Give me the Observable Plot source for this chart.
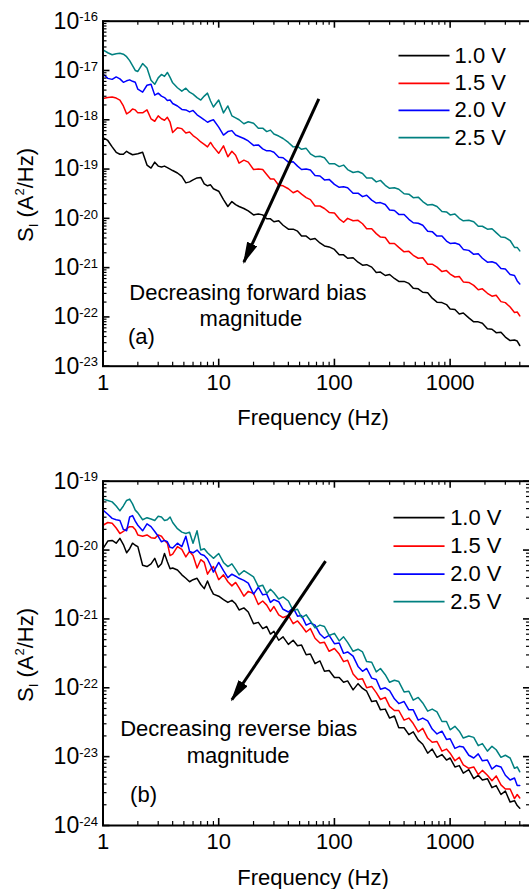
<!DOCTYPE html>
<html><head><meta charset="utf-8">
<script src="https://cdn.jsdelivr.net/npm/d3@7"></script>
<script src="https://cdn.jsdelivr.net/npm/@observablehq/plot@0.6"></script>
<style>
html,body{margin:0;padding:0;background:#fff;overflow:hidden;}
#chart{width:529px;overflow:hidden;}
#chart svg{display:block;max-width:none;}
</style></head><body><div id="chart"></div>
<script>
// ---- data (values are log10 of S_I in A^2/Hz) ----
const freq = [1,1.1,1.2,1.3,1.4,1.5,1.6,1.7,1.8,1.9,2,2.2,2.4,2.6,2.8,3,3.2,3.4,3.6,3.8,4,4.4,4.8,5.2,5.6,6,6.5,7,7.5,8,8.5,9,10,11,12,13,14,15,16.5,18,20,22,24,26,28,30,33,36,40,44,48,52,57,62,68,75,82,90,100,110,120,130,145,160,175,190,210,230,250,275,300,330,360,400,440,480,530,580,640,700,770,850,930,1000,1100,1200,1300,1450,1600,1750,1900,2100,2300,2500,2750,3000,3300,3600,3800,4000];
const seriesNames = ["1.0 V", "1.5 V", "2.0 V", "2.5 V"];
const seriesColors = ["#000000", "#ff0000", "#0000ff", "#008080"];

// panel (a) forward bias
const fwd10 = [-18.36,-18.42,-18.55,-18.66,-18.70,-18.70,-18.64,-18.68,-18.71,-18.70,
-18.69,-18.66,-18.92,-18.98,-18.86,-18.94,-18.96,-18.94,-18.97,-19.00,
-19.03,-19.08,-19.15,-19.28,-19.26,-19.22,-19.18,-19.17,-19.30,-19.34,
-19.32,-19.40,-19.45,-19.62,-19.76,-19.66,-19.72,-19.76,-19.80,-19.85,
-19.93,-19.91,-19.93,-20.01,-20.01,-20.07,-20.05,-20.14,-20.22,-20.22,
-20.26,-20.36,-20.36,-20.43,-20.41,-20.50,-20.56,-20.58,-20.63,-20.74,
-20.74,-20.81,-20.80,-20.89,-20.95,-20.94,-20.99,-21.10,-21.09,-21.16,
-21.14,-21.22,-21.28,-21.28,-21.32,-21.42,-21.43,-21.50,-21.51,-21.62,
-21.70,-21.71,-21.75,-21.84,-21.85,-21.94,-21.92,-22.02,-22.10,-22.10,
-22.13,-22.24,-22.25,-22.32,-22.31,-22.41,-22.48,-22.47,-22.49,-22.58];
const fwd15 = [-17.57,-17.55,-17.54,-17.56,-17.60,-17.72,-17.88,-17.84,-17.78,-17.80,
-17.86,-17.86,-17.80,-17.98,-18.03,-17.92,-17.98,-18.01,-17.95,-18.05,
-18.26,-18.16,-18.18,-18.27,-18.25,-18.32,-18.38,-18.45,-18.50,-18.55,
-18.46,-18.55,-18.68,-18.53,-18.75,-18.64,-18.72,-18.88,-18.82,-18.86,
-19.01,-19.00,-19.01,-19.11,-19.20,-19.20,-19.33,-19.34,-19.40,-19.48,
-19.44,-19.51,-19.58,-19.62,-19.75,-19.75,-19.80,-19.88,-19.89,-20.01,
-20.08,-20.00,-20.05,-20.04,-20.11,-20.21,-20.21,-20.31,-20.38,-20.39,
-20.51,-20.51,-20.59,-20.68,-20.67,-20.75,-20.81,-20.80,-20.93,-20.93,
-20.99,-21.08,-21.06,-21.13,-21.19,-21.18,-21.29,-21.30,-21.36,-21.45,
-21.43,-21.52,-21.58,-21.56,-21.69,-21.71,-21.80,-21.91,-21.90,-21.98];
const fwd20 = [-17.07,-17.16,-17.18,-17.13,-17.17,-17.24,-17.21,-17.19,-17.22,-17.24,
-17.38,-17.44,-17.30,-17.28,-17.50,-17.46,-17.52,-17.55,-17.61,-17.60,
-17.67,-17.72,-17.79,-17.80,-17.84,-17.81,-17.90,-17.95,-18.00,-18.05,
-18.02,-18.00,-18.15,-18.31,-18.24,-18.22,-18.31,-18.34,-18.38,-18.43,
-18.52,-18.51,-18.59,-18.63,-18.63,-18.66,-18.76,-18.77,-18.86,-18.85,
-18.94,-19.01,-19.00,-19.02,-19.13,-19.14,-19.22,-19.21,-19.31,-19.37,
-19.36,-19.38,-19.49,-19.49,-19.56,-19.53,-19.63,-19.69,-19.68,-19.72,
-19.83,-19.84,-19.92,-19.92,-20.02,-20.09,-20.10,-20.14,-20.26,-20.27,
-20.36,-20.36,-20.46,-20.51,-20.50,-20.53,-20.63,-20.65,-20.73,-20.72,
-20.81,-20.89,-20.88,-20.91,-21.02,-21.03,-21.14,-21.16,-21.27,-21.33];
const fwd25 = [-16.58,-16.64,-16.68,-16.66,-16.65,-16.67,-16.72,-16.80,-16.90,-17.00,
-17.02,-16.86,-16.95,-17.20,-17.28,-17.15,-17.08,-17.12,-17.04,-17.14,
-17.25,-17.35,-17.42,-17.36,-17.44,-17.48,-17.55,-17.60,-17.52,-17.46,
-17.62,-17.74,-17.60,-17.86,-17.72,-17.92,-17.96,-18.00,-18.08,-18.04,
-18.07,-18.17,-18.17,-18.24,-18.21,-18.29,-18.33,-18.38,-18.46,-18.55,
-18.54,-18.60,-18.58,-18.69,-18.75,-18.74,-18.77,-18.89,-18.89,-18.95,
-18.92,-19.01,-19.07,-19.05,-19.09,-19.18,-19.18,-19.26,-19.23,-19.33,
-19.39,-19.38,-19.41,-19.50,-19.51,-19.58,-19.57,-19.66,-19.73,-19.72,
-19.76,-19.86,-19.87,-19.93,-19.91,-20.00,-20.05,-20.04,-20.07,-20.16,
-20.16,-20.22,-20.21,-20.29,-20.38,-20.39,-20.45,-20.59,-20.59,-20.66];

// panel (b) reverse bias
const rev10 = [-19.98,-19.87,-19.86,-19.90,-19.83,-19.92,-20.04,-19.98,-19.90,-19.93,
-19.95,-20.22,-20.24,-20.20,-20.12,-20.25,-20.20,-20.05,-20.17,-20.27,
-20.26,-20.29,-20.36,-20.41,-20.46,-20.43,-20.41,-20.50,-20.56,-20.45,
-20.56,-20.64,-20.67,-20.72,-20.76,-20.73,-20.78,-20.87,-20.84,-20.90,
-21.07,-21.05,-21.14,-21.11,-21.22,-21.18,-21.31,-21.26,-21.37,-21.31,
-21.39,-21.38,-21.52,-21.51,-21.65,-21.61,-21.76,-21.75,-21.85,-21.85,
-21.92,-21.90,-22.03,-21.94,-22.01,-22.05,-22.20,-22.19,-22.32,-22.31,
-22.44,-22.41,-22.58,-22.58,-22.68,-22.64,-22.76,-22.82,-22.95,-22.89,
-23.01,-22.97,-23.05,-23.02,-23.15,-23.13,-23.24,-23.19,-23.32,-23.27,
-23.34,-23.32,-23.45,-23.42,-23.55,-23.50,-23.66,-23.64,-23.71,-23.75];
const rev15 = [-19.64,-19.60,-19.61,-19.68,-19.76,-19.73,-19.69,-19.66,-19.66,-19.70,
-19.78,-19.80,-19.78,-19.82,-19.83,-19.78,-19.80,-19.86,-19.90,-20.08,
-20.06,-19.95,-19.99,-20.10,-20.02,-20.08,-20.26,-20.14,-20.18,-20.35,
-20.28,-20.24,-20.43,-20.36,-20.46,-20.52,-20.47,-20.55,-20.67,-20.60,
-20.63,-20.79,-20.74,-20.80,-20.89,-20.82,-20.94,-20.98,-20.95,-21.07,
-21.03,-21.10,-21.19,-21.14,-21.28,-21.35,-21.34,-21.47,-21.43,-21.51,
-21.62,-21.60,-21.80,-21.88,-21.87,-22.00,-21.98,-22.07,-22.17,-22.14,
-22.27,-22.33,-22.33,-22.47,-22.44,-22.52,-22.64,-22.59,-22.73,-22.79,
-22.78,-22.92,-22.89,-22.95,-23.06,-23.01,-23.12,-23.17,-23.15,-23.26,
-23.20,-23.27,-23.35,-23.28,-23.41,-23.47,-23.47,-23.61,-23.55,-23.60];
const rev20 = [-19.42,-19.48,-19.54,-19.56,-19.57,-19.70,-19.72,-19.52,-19.50,-19.58,
-19.64,-19.72,-19.62,-19.66,-19.73,-19.80,-19.88,-19.86,-19.88,-19.96,
-19.97,-19.90,-19.95,-19.80,-20.02,-20.04,-20.00,-20.06,-20.08,-20.13,
-20.22,-20.32,-20.18,-20.30,-20.40,-20.35,-20.38,-20.41,-20.44,-20.48,
-20.64,-20.54,-20.65,-20.64,-20.76,-20.72,-20.75,-20.86,-20.90,-20.84,
-20.96,-20.95,-21.09,-21.06,-21.09,-21.22,-21.28,-21.24,-21.36,-21.35,
-21.50,-21.48,-21.54,-21.69,-21.76,-21.72,-21.86,-21.88,-22.02,-22.00,
-22.04,-22.16,-22.23,-22.20,-22.32,-22.32,-22.47,-22.44,-22.48,-22.60,
-22.67,-22.63,-22.75,-22.74,-22.88,-22.85,-22.86,-22.98,-23.02,-22.96,
-23.06,-23.05,-23.18,-23.13,-23.15,-23.27,-23.34,-23.31,-23.42,-23.42];
const rev25 = [-19.26,-19.28,-19.30,-19.36,-19.43,-19.36,-19.28,-19.26,-19.33,-19.42,
-19.46,-19.56,-19.53,-19.55,-19.57,-19.51,-19.52,-19.57,-19.56,-19.52,
-19.60,-19.69,-19.74,-19.76,-19.74,-19.90,-19.72,-20.00,-19.98,-20.04,
-20.08,-20.12,-20.05,-20.18,-20.24,-20.20,-20.28,-20.36,-20.30,-20.34,
-20.39,-20.53,-20.51,-20.63,-20.57,-20.62,-20.71,-20.68,-20.74,-20.88,
-20.86,-20.98,-20.94,-21.03,-21.13,-21.09,-21.11,-21.24,-21.21,-21.32,
-21.26,-21.34,-21.47,-21.44,-21.48,-21.62,-21.63,-21.77,-21.72,-21.81,
-21.92,-21.89,-21.91,-22.06,-22.05,-22.18,-22.14,-22.22,-22.34,-22.31,
-22.35,-22.49,-22.49,-22.61,-22.56,-22.63,-22.73,-22.70,-22.72,-22.84,
-22.81,-22.92,-22.85,-22.90,-23.01,-22.98,-23.02,-23.17,-23.15,-23.22];

// axes
const xDomain = [1, 4950];
const xTickValues = [1, 10, 100, 1000];
const decadesA = [-23, -16];
const decadesB = [-24, -19];

// legends & annotations (data coordinates)
const legendXA = [358, 988, 1092];
const legendYA = [2.01e-17, 5.5e-18, 1.55e-18, 4.34e-19];
const legendXB = [324, 895, 1000];
const legendYB = [2.95e-20, 1.14e-20, 4.47e-21, 1.78e-21];
const notesA = [
  {f: 17.9, s: 3.1e-22, text: "Decreasing forward bias"},
  {f: 19, s: 9.2e-23, text: "magnitude"},
  {f: 2.15, s: 3.9e-23, text: "(a)"}
];
const notesB = [
  {f: 14.9, s: 2.55e-23, text: "Decreasing reverse bias"},
  {f: 14.7, s: 1.04e-23, text: "magnitude"},
  {f: 2.24, s: 2.74e-24, text: "(b)"}
];
const arrowA = {f1: 73.3, s1: 2.67e-18, f2: 16.5, s2: 1.29e-21};
const arrowB = {f1: 83.8, s1: 6.9e-21, f2: 13.0, s2: 6.7e-23};

const FONT = "'Liberation Sans', Arial, Helvetica, sans-serif";

function drawPanel(p) {
  const W = 540, ML = 102.5, MR = 10;
  const innerW = W - ML - MR;
  const innerH = p.height - p.marginTop - p.marginBottom;
  const rows = p.series.flatMap((vals, i) => vals.map((v, j) => ({f: freq[j], s: Math.pow(10, v), name: seriesNames[i]})));
  const [e0, e1] = p.decades;
  const yMajor = d3.range(e0, e1 + 1).map(e => Math.pow(10, e));
  const yMinor = d3.range(e0, e1).flatMap(e => d3.range(2, 10).map(m => m * Math.pow(10, e)));
  const xMinor = [0, 1, 2, 3].flatMap(e => d3.range(2, 10).map(m => m * Math.pow(10, e))).filter(v => v < xDomain[1]);
  const legendRows = seriesNames.map((n, i) => ({name: n, x1: p.legendX[0], x2: p.legendX[1], xt: p.legendX[2], y: p.legendY[i]}));
  const MAJ = 7, MIN = 4;
  const marks = [
    Plot.line(rows, {x: "f", y: "s", z: "name", stroke: "name", strokeWidth: 1.5}),
    Plot.tickX(xTickValues, {x: d => d, insetTop: innerH - MAJ, strokeWidth: 1.6}),
    Plot.tickX(xMinor, {x: d => d, insetTop: innerH - MIN, strokeWidth: 1.2}),
    Plot.tickX(xTickValues, {x: d => d, insetBottom: innerH - MAJ, strokeWidth: 1.6}),
    Plot.tickX(xMinor, {x: d => d, insetBottom: innerH - MIN, strokeWidth: 1.2}),
    Plot.tickY(yMajor, {y: d => d, insetRight: innerW - MAJ, strokeWidth: 1.6}),
    Plot.tickY(yMinor, {y: d => d, insetRight: innerW - MIN, strokeWidth: 1.2}),
    Plot.frame({strokeWidth: 2, stroke: "black"}),
    Plot.axisX({ticks: xTickValues, tickSize: 0, tickPadding: 8, fontSize: 22, tickFormat: d => String(d)}),
    Plot.axisY({ticks: yMajor, tickSize: 0, tickPadding: 5, fontSize: 23, tickFormat: d => String(Math.round(Math.log10(d)))}),
    Plot.link(legendRows, {x1: "x1", x2: "x2", y1: "y", y2: "y", stroke: "name", strokeWidth: 1.8}),
    Plot.text(legendRows, {x: "xt", y: "y", text: "name", textAnchor: "start", fontSize: 22}),
    Plot.text(p.notes, {x: "f", y: "s", text: "text", fontSize: 22}),
    Plot.link([p.arrow], {x1: "f1", y1: "s1", x2: "f2", y2: "s2", stroke: "black", strokeWidth: 3, ariaDescription: "bias-arrow"})
  ];
  if (p.rightTicks) {
    marks.push(Plot.tickY(yMajor, {y: d => d, insetLeft: innerW - MAJ, strokeWidth: 1.6}));
    marks.push(Plot.tickY(yMinor, {y: d => d, insetLeft: innerW - MIN, strokeWidth: 1.2}));
  }
  const chart = Plot.plot({
    width: W, height: p.height,
    marginLeft: ML, marginRight: MR, marginTop: p.marginTop, marginBottom: p.marginBottom,
    style: {fontFamily: FONT, background: "white", color: "black", maxWidth: "none", overflow: "hidden"},
    x: {type: "log", domain: xDomain},
    y: {type: "log", domain: [Math.pow(10, e0), Math.pow(10, e1)]},
    color: {domain: seriesNames, range: seriesColors},
    marks
  });
  const svg = d3.select(chart);
  // superscript exponents on y tick labels
  svg.selectAll('g[aria-label="y-axis tick label"] text').each(function () {
    const ex = this.textContent;
    const t = d3.select(this);
    t.text("10");
    t.append("tspan").attr("dy", "-0.55em").attr("font-size", "13px").text(ex);
  });
  // filled arrow head
  const defs = svg.append("defs");
  const mid = "head-" + p.id;
  defs.append("marker").attr("id", mid).attr("viewBox", "0 0 22 11")
    .attr("markerWidth", 22).attr("markerHeight", 11).attr("refX", 20).attr("refY", 5.5)
    .attr("markerUnits", "userSpaceOnUse").attr("orient", "auto")
    .append("path").attr("d", "M0,0L22,5.5L0,11Z").attr("fill", "black");
  let arrowPaths = svg.selectAll('g[aria-description="bias-arrow"] path');
  if (arrowPaths.empty()) {
    const links = svg.selectAll('g[aria-label="link"]').nodes();
    arrowPaths = d3.select(links[links.length - 1]).selectAll("path");
  }
  arrowPaths.attr("marker-end", `url(#${mid})`);
  // axis titles
  svg.append("text").attr("x", 313).attr("y", p.xLabelY).attr("text-anchor", "middle")
    .attr("font-family", FONT).attr("font-size", 22).attr("fill", "black").text("Frequency (Hz)");
  const yl = svg.append("text").attr("transform", `translate(33,${p.yLabelCY}) rotate(-90)`)
    .attr("text-anchor", "middle").attr("font-family", FONT).attr("font-size", 22).attr("fill", "black");
  yl.append("tspan").text("S");
  yl.append("tspan").attr("font-size", 13).attr("dy", 5).text("I");
  yl.append("tspan").attr("dy", -5).text(" (A");
  yl.append("tspan").attr("font-size", 13).attr("dy", -9).text("2");
  yl.append("tspan").attr("dy", 9).text("/Hz)");
  return chart;
}

const root = document.getElementById("chart");
root.appendChild(drawPanel({
  id: "a", series: [fwd10, fwd15, fwd20, fwd25], decades: decadesA,
  height: 440, marginTop: 20.7, marginBottom: 74.3,
  legendX: legendXA, legendY: legendYA, notes: notesA, arrow: arrowA,
  xLabelY: 425, yLabelCY: 195, rightTicks: false
}));
root.appendChild(drawPanel({
  id: "b", series: [rev10, rev15, rev20, rev25], decades: decadesB,
  height: 449, marginTop: 40.7, marginBottom: 64,
  legendX: legendXB, legendY: legendYB, notes: notesB, arrow: arrowB,
  xLabelY: 445, yLabelCY: 215, rightTicks: true
}));
</script>
</body></html>
